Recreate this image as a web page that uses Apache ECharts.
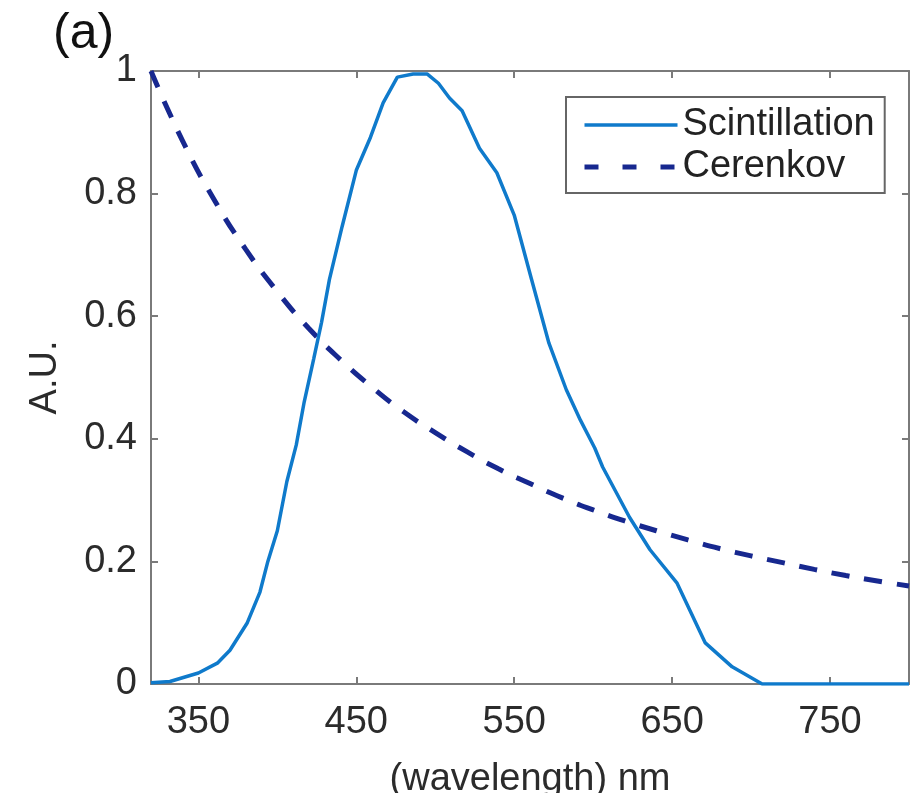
<!DOCTYPE html>
<html>
<head>
<meta charset="utf-8">
<script src="https://cdn.jsdelivr.net/npm/echarts@6/dist/echarts.min.js"></script>
<style>
html,body{margin:0;padding:0;background:#fff;}
#chart{width:922px;height:793px;}
</style>
</head>
<body>
<div id="chart"></div>
<script>
// ---- data ----
var xTickValues = [350, 450, 550, 650, 750];
var yTickLabels = ['0', '0.2', '0.4', '0.6', '0.8', '1'];

var scintWavelength = [320, 332, 350, 362, 370, 381, 389, 394, 400, 406, 412, 417, 423, 428, 433, 441, 450, 459, 467, 476, 486, 495, 502, 509, 517, 528, 539, 550, 561, 572, 583, 592, 601, 606, 623, 636, 653, 671, 688, 707, 800];
var scintValue = [0.002, 0.004, 0.018, 0.034, 0.055, 0.10, 0.15, 0.20, 0.25, 0.33, 0.39, 0.46, 0.53, 0.59, 0.66, 0.746, 0.838, 0.892, 0.948, 0.99, 0.995, 0.995, 0.98, 0.956, 0.935, 0.874, 0.834, 0.765, 0.66, 0.556, 0.48, 0.43, 0.385, 0.354, 0.272, 0.219, 0.165, 0.067, 0.028, 0, 0];

var cerenWavelength = [320, 340, 360, 380, 400, 420, 440, 460, 480, 500, 520, 540, 560, 580, 600, 620, 640, 660, 680, 700, 720, 740, 760, 780, 800];
var cerenValue = [1.0, 0.886, 0.79, 0.709, 0.64, 0.58, 0.529, 0.484, 0.444, 0.41, 0.379, 0.351, 0.327, 0.304, 0.284, 0.266, 0.25, 0.235, 0.221, 0.209, 0.198, 0.187, 0.177, 0.168, 0.16];

function pairs(xs, ys){ var out=[]; for (var i=0;i<xs.length;i++) out.push([xs[i], ys[i]]); return out; }

var FONT = '"Liberation Sans", Arial, sans-serif';
var AXIS_COLOR = '#7a7a7a';
var LABEL_COLOR = '#2b2b2b';
var SCINT_COLOR = '#0f7acb';
var CEREN_COLOR = '#17288f';

var chart = echarts.init(document.getElementById('chart'), null, {renderer:'canvas'});
var xBase = {
  type: 'value', min: 320, max: 800,
  axisLine: {show: true, onZero: false, lineStyle: {color: AXIS_COLOR, width: 2}},
  axisTick: {show: true, inside: true, length: 7, customValues: xTickValues, lineStyle: {color: AXIS_COLOR, width: 2}},
  splitLine: {show: false}
};
var yBase = {
  type: 'value', min: 0, max: 1, interval: 0.2,
  axisLine: {show: true, onZero: false, lineStyle: {color: AXIS_COLOR, width: 2}},
  axisTick: {show: true, inside: true, length: 7, lineStyle: {color: AXIS_COLOR, width: 2}},
  splitLine: {show: false}
};
var option = {
  animation: false,
  backgroundColor: '#fff',
  title: {
    text: '(a)', left: 48, top: 4,
    textStyle: {fontFamily: FONT, fontSize: 50, fontWeight: 'normal', color: '#111'}
  },
  grid: {left: 151, right: 13, top: 71, bottom: 109, containLabel: false, outerBoundsMode: 'none'},
  legend: {
    orient: 'vertical', left: 566, top: 97,
    padding: [9, 10, 7, 16], itemGap: 4,
    itemWidth: 93, itemHeight: 14,
    borderColor: '#666', borderWidth: 2, backgroundColor: '#fff',
    itemStyle: {opacity: 0},
    textStyle: {fontFamily: FONT, fontSize: 38, color: '#222'},
    data: [
      {name: 'Scintillation', lineStyle: {width: 3.5}},
      {name: 'Cerenkov', lineStyle: {width: 5, type: [14, 24]}}
    ]
  },
  xAxis: [
    Object.assign({}, xBase, {
      position: 'bottom',
      name: '(wavelength) nm', nameLocation: 'middle', nameGap: 77,
      nameTextStyle: {fontFamily: FONT, fontSize: 38, color: LABEL_COLOR},
      axisLabel: {show: true, customValues: xTickValues, margin: 20, fontFamily: FONT, fontSize: 38, color: LABEL_COLOR}
    }),
    Object.assign({}, xBase, {position: 'top', axisLabel: {show: false}})
  ],
  yAxis: [
    Object.assign({}, yBase, {
      position: 'left',
      name: 'A.U.', nameLocation: 'middle', nameGap: 86,
      nameTextStyle: {fontFamily: FONT, fontSize: 38, color: LABEL_COLOR},
      axisLabel: {show: true, margin: 14, fontFamily: FONT, fontSize: 38, color: LABEL_COLOR,
        padding: [9, 0, 0, 0],
        formatter: function(v){ return yTickLabels[Math.round(v/0.2)]; }}
    }),
    Object.assign({}, yBase, {position: 'right', axisLabel: {show: false}})
  ],
  series: [
    {
      name: 'Scintillation', type: 'line', xAxisIndex: 0, yAxisIndex: 0,
      data: pairs(scintWavelength, scintValue),
      symbol: 'none', smooth: false, clip: true,
      lineStyle: {color: SCINT_COLOR, width: 3.5},
      itemStyle: {color: SCINT_COLOR},
      z: 3
    },
    {
      name: 'Cerenkov', type: 'line', xAxisIndex: 0, yAxisIndex: 0,
      data: pairs(cerenWavelength, cerenValue),
      symbol: 'none', smooth: true, clip: true,
      lineStyle: {color: CEREN_COLOR, width: 5, type: [18, 15]},
      itemStyle: {color: CEREN_COLOR},
      z: 2
    }
  ]
};
chart.setOption(option);
</script>
</body>
</html>
